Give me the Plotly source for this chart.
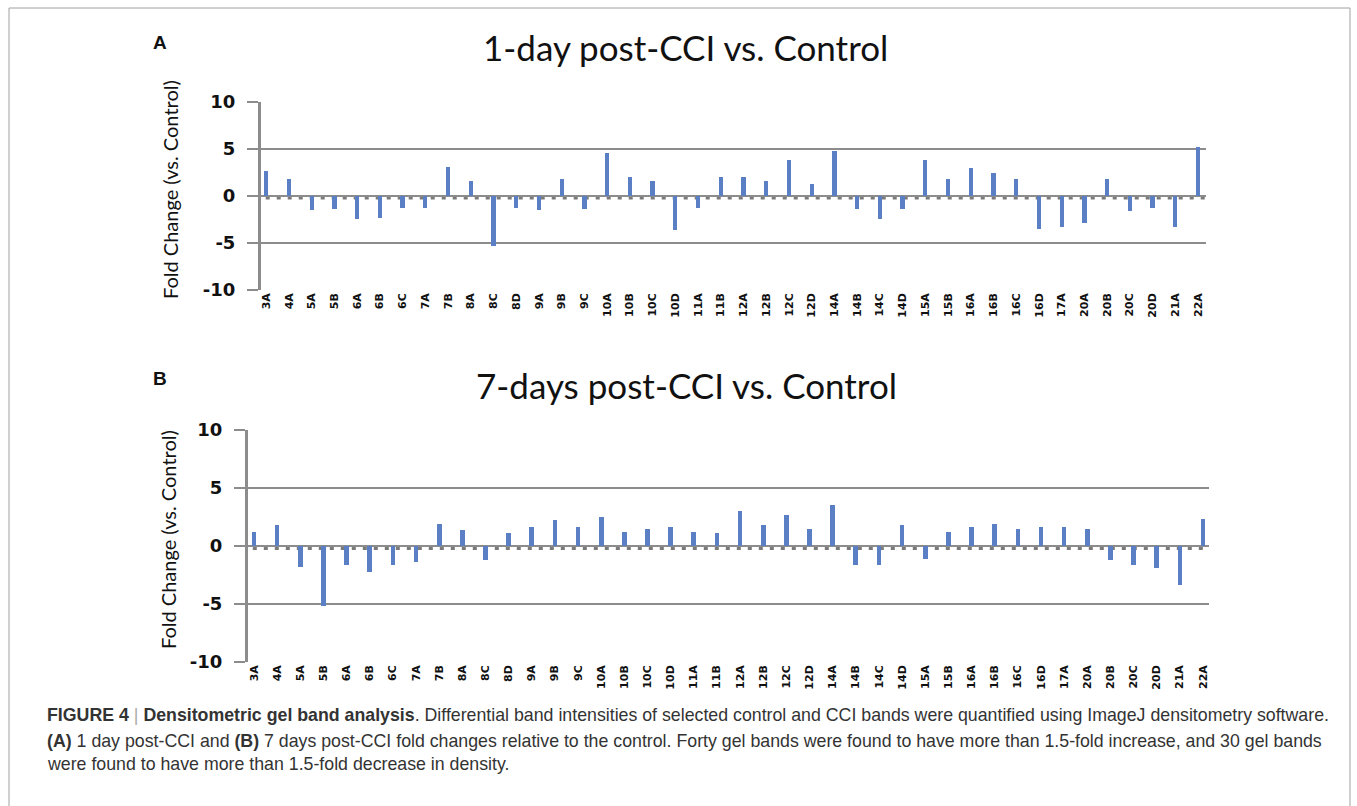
import plotly.graph_objects as go

W, H = 1357, 806

categories = ["3A","4A","5A","5B","6A","6B","6C","7A","7B","8A","8C","8D","9A","9B","9C",
              "10A","10B","10C","10D","11A","11B","12A","12B","12C","12D","14A","14B","14C",
              "14D","15A","15B","16A","16B","16C","16D","17A","20A","20B","20C","20D","21A","22A"]

fold_1day = [2.7, 1.8, -1.5, -1.4, -2.4, -2.3, -1.3, -1.3, 3.1, 1.6, -5.3, -1.3, -1.5, 1.8, -1.4,
             4.6, 2.0, 1.6, -3.6, -1.3, 2.0, 2.0, 1.6, 3.8, 1.3, 4.75, -1.4, -2.4,
             -1.4, 3.8, 1.8, 3.0, 2.4, 1.8, -3.5, -3.3, -2.9, 1.8, -1.6, -1.3, -3.3, 5.2]

fold_7days = [1.2, 1.8, -1.8, -5.2, -1.6, -2.2, -1.6, -1.4, 1.9, 1.4, -1.2, 1.1, 1.65, 2.2, 1.65,
              2.5, 1.2, 1.5, 1.65, 1.2, 1.1, 3.0, 1.8, 2.7, 1.5, 3.5, -1.6, -1.6,
              1.8, -1.1, 1.25, 1.65, 1.9, 1.5, 1.65, 1.65, 1.5, -1.2, -1.6, -1.9, -3.35, 2.35]

y_ticks = [-10, -5, 0, 5, 10]
titles = ["1-day post-CCI vs. Control", "7-days post-CCI vs. Control"]
panel_letters = ["A", "B"]
y_title = "Fold Change (vs. Control)"

BAR = "#5b7fc4"
GRID = "#8c8c8c"

def px(x):
    return x / W

def py(y):
    return 1 - y / H

fig = go.Figure()
fig.add_trace(go.Bar(x=categories, y=fold_1day, marker_color=BAR, width=0.19,
                     xaxis="x", yaxis="y", showlegend=False))
fig.add_trace(go.Bar(x=categories, y=fold_7days, marker_color=BAR, width=0.2,
                     xaxis="x2", yaxis="y2", showlegend=False))

# panel geometry (pixels)
pA = dict(x0=261, x1=1206, ytop=102, ybot=290, rng=[-0.23, 41.35])
pB = dict(x0=248, x1=1209, ytop=430, ybot=662, rng=[-0.26, 41.26])

def xaxis_cfg(p, anchor):
    return dict(domain=[px(p["x0"]), px(p["x1"])], anchor=anchor, type="category",
                categoryorder="array", categoryarray=categories, range=p["rng"],
                tickangle=-90, showgrid=False, showline=False, ticks="", automargin=False,
                tickfont=dict(family="DejaVu Sans", size=11, color="#111", weight=700),
                zeroline=False)

def yaxis_cfg(p, anchor):
    return dict(domain=[py(p["ybot"]), py(p["ytop"])], anchor=anchor, range=[-10, 10],
                tickvals=y_ticks, ticktext=[str(v) for v in y_ticks], automargin=False,
                showgrid=True, gridcolor=GRID, gridwidth=2,
                zeroline=False, showline=True, linecolor=GRID, linewidth=3,
                ticks="outside", ticklen=11, tickwidth=2, tickcolor=GRID,
                ticklabelstandoff=8,
                tickfont=dict(family="DejaVu Sans", size=18, color="#111", weight=700))

fig.update_layout(
    template="none",
    width=W, height=H, margin=dict(l=0, r=0, t=0, b=0, pad=0), autosize=False,
    paper_bgcolor="white", plot_bgcolor="white", bargap=0,
    xaxis=xaxis_cfg(pA, "y"), yaxis=yaxis_cfg(pA, "x"),
    xaxis2=xaxis_cfg(pB, "y2"), yaxis2=yaxis_cfg(pB, "x2"),
)

shapes = []
# zero line with dotted marks just beneath it
for xr, yr in (("x", "y"), ("x2", "y2")):
    shapes.append(dict(type="line", xref=xr + " domain", yref=yr, x0=0, x1=1, y0=0, y1=0,
                       line=dict(color=GRID, width=2), layer="below"))
    shapes.append(dict(type="line", xref=xr + " domain", yref=yr, x0=0.005, x1=1, y0=-0.22, y1=-0.22,
                       line=dict(color="#7a7a7a", width=3, dash="4px,7px"), layer="below"))
# border frame
shapes.append(dict(type="line", xref="paper", yref="paper", x0=px(9), x1=px(1350), y0=py(8), y1=py(8),
                   line=dict(color="#a0a0a0", width=1)))
shapes.append(dict(type="line", xref="paper", yref="paper", x0=px(9), x1=px(9), y0=py(8), y1=0,
                   line=dict(color="#a0a0a0", width=1)))
shapes.append(dict(type="line", xref="paper", yref="paper", x0=px(1350), x1=px(1350), y0=py(8), y1=0,
                   line=dict(color="#a0a0a0", width=1)))
fig.update_layout(shapes=shapes)

ann = []
title_pos = [(685, 47), (686, 385)]
letter_pos = [(160, 42), (160, 379)]
ytitle_pos = [(170, 190), (168, 540)]
for i in range(2):
    ann.append(dict(text=titles[i], x=px(title_pos[i][0]), y=py(title_pos[i][1]), xref="paper", yref="paper",
                    showarrow=False, xanchor="center", yanchor="middle",
                    font=dict(family="Lato", size=35, color="#111")))
    ann.append(dict(text="<b>" + panel_letters[i] + "</b>", x=px(letter_pos[i][0]), y=py(letter_pos[i][1]),
                    xref="paper", yref="paper", showarrow=False, xanchor="center", yanchor="middle",
                    font=dict(family="Liberation Sans", size=19, color="#111")))
    ann.append(dict(text=y_title, x=px(ytitle_pos[i][0]), y=py(ytitle_pos[i][1]), xref="paper", yref="paper",
                    showarrow=False, textangle=-90, xanchor="center", yanchor="middle",
                    font=dict(family="Lato", size=20, color="#111")))

caption_lines = [
    "<b>FIGURE 4</b> <span style='color:#aaa'>|</span> <b>Densitometric gel band analysis</b>. Differential band intensities of selected control and CCI bands were quantified using ImageJ densitometry software.",
    "<b>(A)</b> 1 day post-CCI and <b>(B)</b> 7 days post-CCI fold changes relative to the control. Forty gel bands were found to have more than 1.5-fold increase, and 30 gel bands",
    "were found to have more than 1.5-fold decrease in density.",
]
cap_y = [715, 741, 764]
for line, yy in zip(caption_lines, cap_y):
    ann.append(dict(text=line, x=px(45), y=py(yy), xref="paper", yref="paper", showarrow=False,
                    xanchor="left", yanchor="middle", align="left",
                    font=dict(family="Liberation Sans", size=17.75, color="#333")))
fig.update_layout(annotations=ann)

fig.write_html("out.html", config={"displayModeBar": False},
               post_script="document.body.style.margin='0';document.body.style.padding='0';")
